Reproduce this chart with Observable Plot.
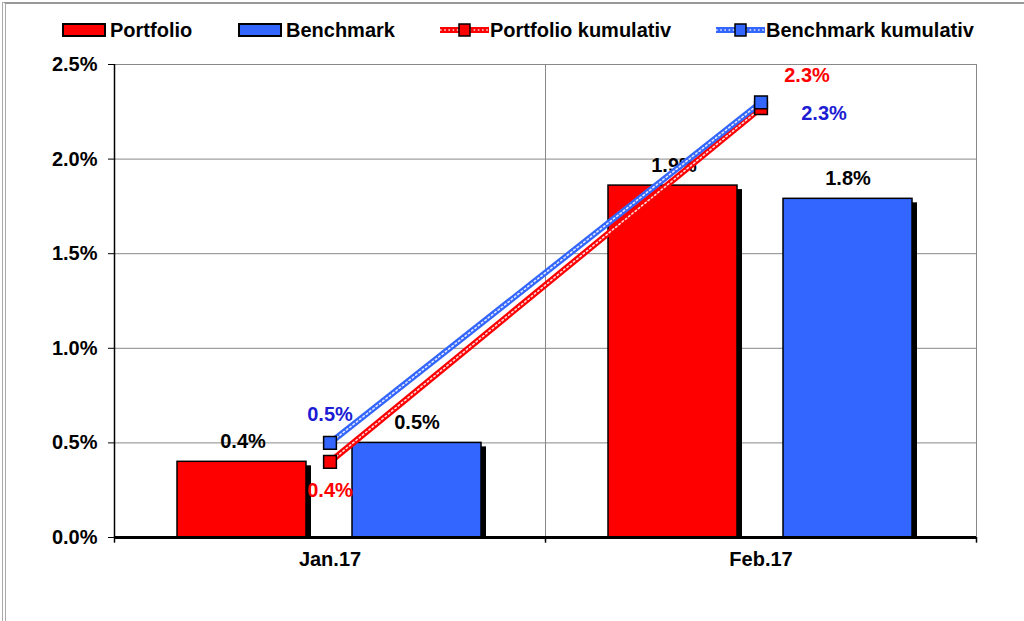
<!DOCTYPE html>
<html>
<head>
<meta charset="utf-8">
<script src="https://cdn.jsdelivr.net/npm/d3@7"></script>
<script src="https://cdn.jsdelivr.net/npm/@observablehq/plot@0.6"></script>
<style>
  html, body { margin: 0; padding: 0; background: #fff; }
  body { width: 1024px; height: 621px; position: relative; overflow: hidden;
         font-family: "Liberation Sans", Arial, sans-serif; }
  #frame { position: absolute; left: 2px; top: 2px; width: 1100px; height: 700px;
           border-left: 4px double #aaa; border-top: 2px solid #999; pointer-events: none; }
  #legend { position: relative; height: 44px; }
  .lg { position: absolute; top: 19px; font-weight: bold; font-size: 20px; line-height: 23px; color: #000; white-space: nowrap; }
  .sw { position: absolute; }
  #chart { position: absolute; left: 0; top: 44px; }
</style>
</head>
<body>
<div id="legend"></div>
<div id="chart"></div>
<div id="frame"></div>
<script>
const months = ["Jan.17", "Feb.17"];
const portfolio = [0.40, 1.86];
const benchmark = [0.50, 1.79];
const portfolioCum = [0.40, 2.27];
const benchmarkCum = [0.50, 2.30];
const yTicks = [0, 0.5, 1.0, 1.5, 2.0, 2.5];
const seriesNames = ["Portfolio", "Benchmark", "Portfolio kumulativ", "Benchmark kumulativ"];

const RED = "#ff0000", BLUE = "#3366ff", BLUE_TXT = "#1c1cd4";
const fmt = v => v.toFixed(1) + "%";

const bars = months.map((m, i) => ({month: m, p: portfolio[i], b: benchmark[i]}));
const cumP = months.map((m, i) => ({month: m, v: portfolioCum[i], i}));
const cumB = months.map((m, i) => ({month: m, v: benchmarkCum[i], i}));

// Legend
const legend = document.getElementById("legend");
function addLegend(kind, color, swLeft, textLeft, name) {
  const ns = "http://www.w3.org/2000/svg";
  const svg = document.createElementNS(ns, "svg");
  svg.setAttribute("class", "sw");
  if (kind === "bar") {
    svg.setAttribute("width", 44); svg.setAttribute("height", 14);
    svg.style.left = swLeft + "px"; svg.style.top = "23px";
    svg.innerHTML = `<rect x="1" y="1" width="42" height="12" fill="${color}" stroke="#000" stroke-width="2"/>`;
  } else {
    svg.setAttribute("width", 52); svg.setAttribute("height", 16);
    svg.style.left = swLeft + "px"; svg.style.top = "22px";
    svg.innerHTML = `<line x1="1" y1="8" x2="50" y2="8" stroke="${color}" stroke-width="6"/>
      <line x1="1" y1="8" x2="50" y2="8" stroke="#fff" stroke-width="1.6" stroke-dasharray="1.6,2.6" opacity="0.85"/>
      <rect x="20" y="2" width="11" height="12" fill="${color}" stroke="#000" stroke-width="1.5"/>`;
  }
  legend.appendChild(svg);
  const t = document.createElement("div");
  t.className = "lg"; t.style.left = textLeft + "px"; t.textContent = name;
  legend.appendChild(t);
}
addLegend("bar", RED, 62, 110, seriesNames[0]);
addLegend("bar", BLUE, 238, 286, seriesNames[1]);
addLegend("line", RED, 439, 490, seriesNames[2]);
addLegend("line", BLUE, 715, 766, seriesNames[3]);

const half = 431 / 2;

const chart = Plot.plot({
  width: 1024,
  height: 533,
  marginTop: 20,
  marginLeft: 114,
  marginRight: 48,
  marginBottom: 40,
  style: {fontFamily: "'Liberation Sans', Arial, sans-serif", fontWeight: "bold", fontSize: "20px", background: "transparent", color: "#000"},
  x: {type: "band", domain: months, padding: 0, label: null},
  y: {domain: [0, 2.5], label: null},
  marks: [
    Plot.gridY(yTicks, {stroke: "#888", strokeOpacity: 1, strokeWidth: 1}),
    Plot.ruleX(["Jan.17"], {dx: half, stroke: "#888", strokeWidth: 1}),
    Plot.ruleX(["Feb.17"], {dx: half, stroke: "#888", strokeWidth: 1}),
    Plot.ruleX(["Jan.17"], {dx: -half, stroke: "#000", strokeWidth: 1.5}),
    // shadows
    Plot.barY(bars, {x: "month", y: "p", fill: "#000", insetLeft: 63, insetRight: 239, dx: 5, dy: 4, insetBottom: 4}),
    Plot.barY(bars, {x: "month", y: "b", fill: "#000", insetLeft: 238, insetRight: 64, dx: 5, dy: 4, insetBottom: 4}),
    // bars
    Plot.barY(bars, {x: "month", y: "p", fill: RED, stroke: "#000", strokeWidth: 1.5, insetLeft: 63, insetRight: 239}),
    Plot.barY(bars, {x: "month", y: "b", fill: BLUE, stroke: "#000", strokeWidth: 1.5, insetLeft: 238, insetRight: 64}),
    // baseline + ticks
    Plot.ruleY([0], {stroke: "#000", strokeWidth: 3}),
    Plot.ruleX(["Jan.17"], {dx: -half, y1: 0, y2: -0.03, stroke: "#000", strokeWidth: 1.5}),
    Plot.ruleX(["Feb.17"], {dx: -half, y1: 0, y2: -0.03, stroke: "#000", strokeWidth: 1.5}),
    Plot.ruleX(["Feb.17"], {dx: half, y1: 0, y2: -0.03, stroke: "#000", strokeWidth: 1.5}),
    Plot.axisY(yTicks, {tickFormat: fmt, tickSize: 6, tickPadding: 11, fontSize: 20, fontWeight: "bold", stroke: "#000"}),
    Plot.axisX({tickSize: 0, tickPadding: 14, fontSize: 20, fontWeight: "bold"}),
    // bar labels
    Plot.text(bars, {x: "month", y: "p", text: d => fmt(d.p), dx: -87, dy: -20, fill: "#000"}),
    Plot.text(bars, {x: "month", y: "b", text: d => fmt(d.b), dx: 87, dy: -20, fill: "#000"}),
    // cumulative lines
    Plot.line(cumP, {x: "month", y: "v", stroke: RED, strokeWidth: 6}),
    Plot.line(cumP, {x: "month", y: "v", stroke: "#fff", strokeWidth: 1.6, strokeDasharray: "1.6,2.6", strokeOpacity: 0.85}),
    Plot.line(cumB, {x: "month", y: "v", stroke: BLUE, strokeWidth: 6}),
    Plot.line(cumB, {x: "month", y: "v", stroke: "#fff", strokeWidth: 1.6, strokeDasharray: "1.6,2.6", strokeOpacity: 0.85}),
    Plot.dot(cumP, {x: "month", y: "v", symbol: "square", r: 7.2, fill: RED, stroke: "#000", strokeWidth: 1.5}),
    Plot.dot(cumB, {x: "month", y: "v", symbol: "square", r: 7.2, fill: BLUE, stroke: "#000", strokeWidth: 1.5}),
    // cumulative labels
    Plot.text(cumP.filter(d => d.i === 0), {x: "month", y: "v", text: d => fmt(d.v), dy: 29, fill: RED}),
    Plot.text(cumP.filter(d => d.i === 1), {x: "month", y: "v", text: d => fmt(d.v), dx: 46, dy: -32, fill: RED}),
    Plot.text(cumB.filter(d => d.i === 0), {x: "month", y: "v", text: d => fmt(d.v), dy: -28, fill: BLUE_TXT}),
    Plot.text(cumB.filter(d => d.i === 1), {x: "month", y: "v", text: d => fmt(d.v), dx: 63, dy: 11, fill: BLUE_TXT})
  ]
});
document.getElementById("chart").appendChild(chart);
</script>
</body>
</html>
